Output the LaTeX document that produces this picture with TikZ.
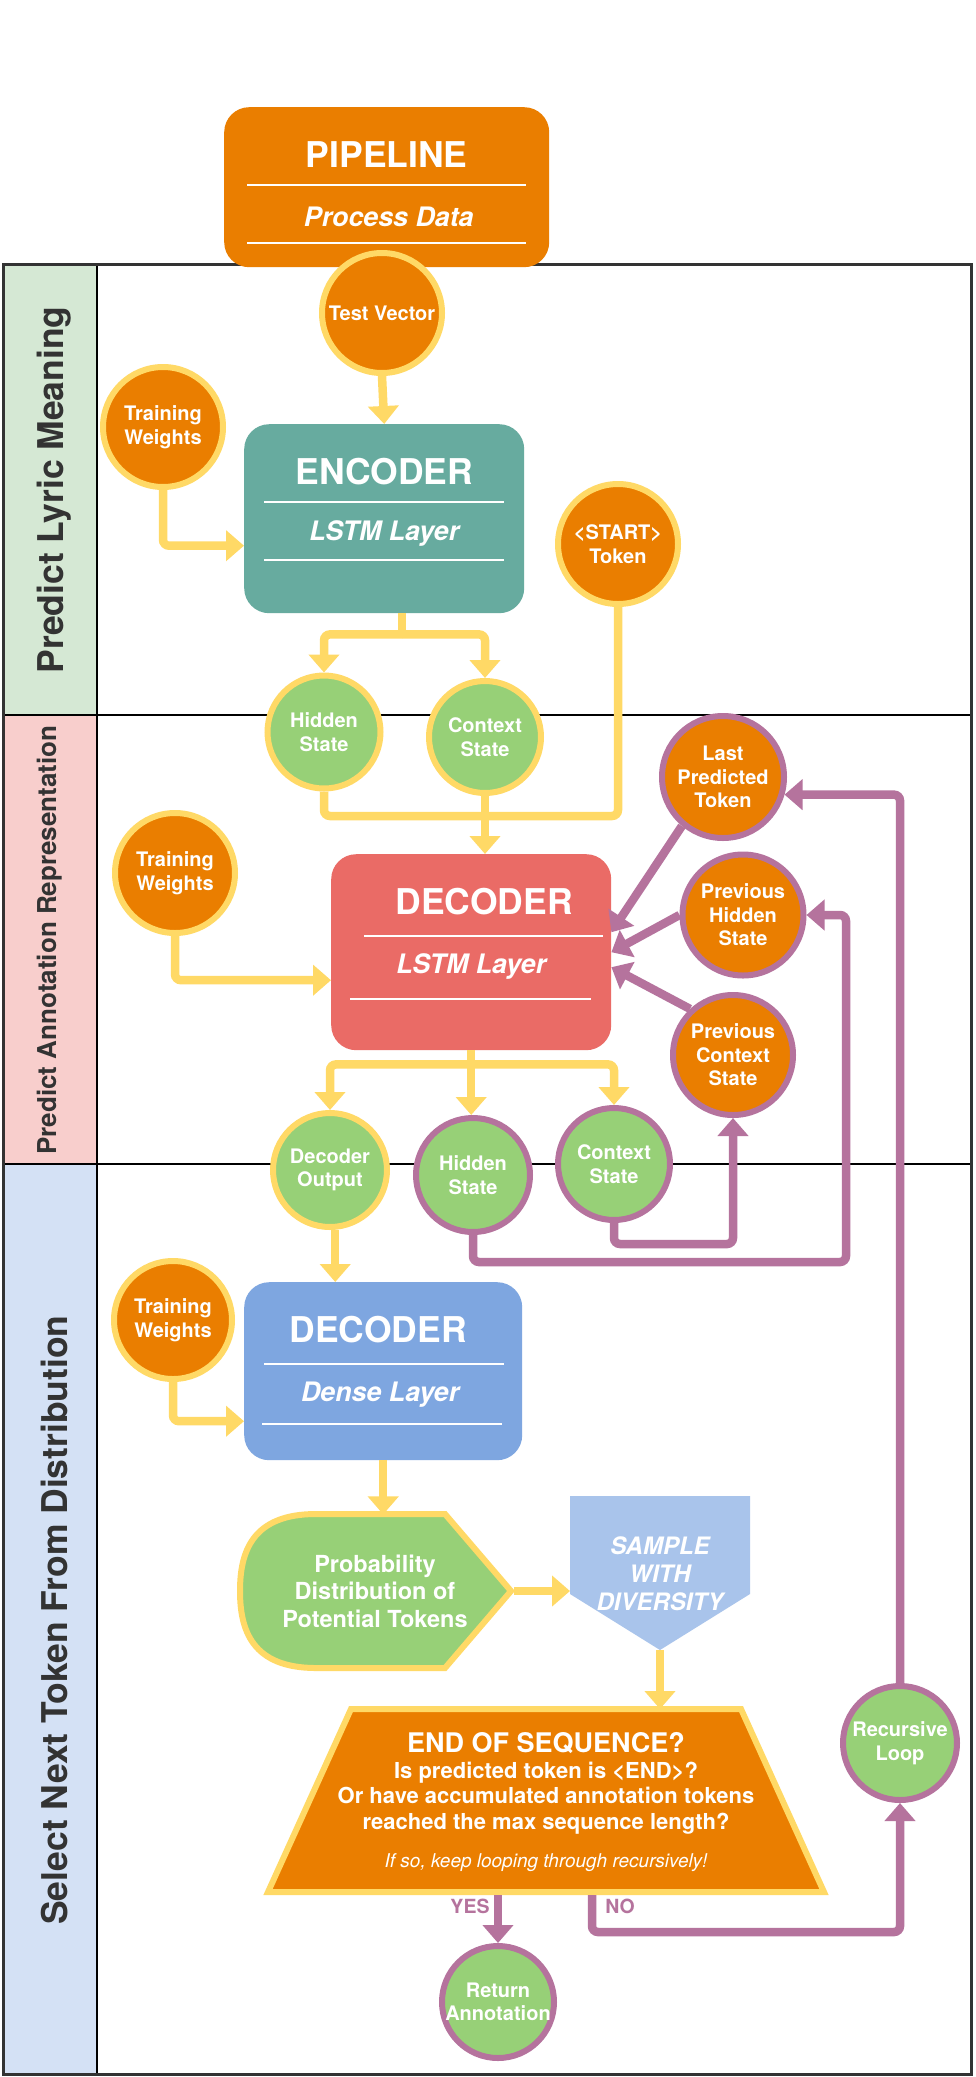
\documentclass[tikz,border=0pt]{standalone}
\usepackage{fontspec}
\setmainfont{TeX Gyre Heros}
\usetikzlibrary{arrows.meta,calc}
\definecolor{orng}{HTML}{EA7E00}
\definecolor{ylw}{HTML}{FFD966}
\definecolor{tealb}{HTML}{67AB9F}
\definecolor{redb}{HTML}{EA6B66}
\definecolor{blueb}{HTML}{7EA6E0}
\definecolor{grn}{HTML}{97D077}
\definecolor{lblue}{HTML}{A9C4EB}
\definecolor{purp}{HTML}{B5739D}
\definecolor{laneg}{HTML}{D5E8D4}
\definecolor{lanep}{HTML}{F8CECC}
\definecolor{laneb}{HTML}{D4E1F5}
\definecolor{dgray}{HTML}{333333}
\newcommand{\pxfont}[2]{\fontsize{#1}{#2}\selectfont}
\tikzset{
 circ/.style={circle, line width=6pt, inner sep=0pt, minimum size=#1, align=center, text=white, font=\pxfont{20}{23.5}\bfseries},
 ocy/.style={circ=#1, fill=orng, draw=ylw},
 gcy/.style={circ=#1, fill=grn, draw=ylw},
 ocp/.style={circ=#1, fill=orng, draw=purp},
 gcp/.style={circ=#1, fill=grn, draw=purp},
 boxshape/.style={rectangle, rounded corners=25pt, inner sep=0pt, anchor=north west},
 btitle/.style={text=white, font=\pxfont{35.5}{40}\bfseries, inner sep=0pt},
 bsub/.style={text=white, font=\pxfont{26.8}{30}\bfseries\itshape, inner sep=0pt},
 wline/.style={draw=white, line width=2pt},
 yline/.style={draw=ylw, line width=8.5pt, rounded corners=6pt},
 yarrow/.style={yline, -{Triangle[width=30pt,length=18pt]}},
 pline/.style={draw=purp, line width=8.5pt, rounded corners=6pt},
 parrow/.style={pline, -{Triangle[width=30pt,length=18pt]}},
 lanelabel/.style={rotate=90, text=dgray, inner sep=0pt},
 plabel/.style={text=purp, font=\pxfont{19.5}{22}\bfseries, inner sep=0pt},
 shapetext/.style={text=white, align=center, inner sep=0pt},
}
\begin{document}
\begin{tikzpicture}[x=1pt,y=-1pt]
\useasboundingbox (0,0) rectangle (975,2077);
\fill[white] (0,0) rectangle (975,2077);
% ---------------- swimlanes
\fill[laneg] (3,264) rectangle (97,715);
\fill[lanep] (3,715) rectangle (97,1164);
\fill[laneb] (3,1164) rectangle (97,2074);
\draw[line width=1.5pt] (97,264) -- (97,2074);
\draw[line width=1.5pt] (3,715) -- (971,715);
\draw[line width=1.5pt] (3,1164) -- (971,1164);
\draw[line width=3pt, dgray] (3,264) rectangle (971,2074);
\node[lanelabel, font=\pxfont{35.5}{40}\bfseries] (lane1) at (54,490) {Predict Lyric Meaning};
\node[lanelabel, font=\pxfont{26}{30}\bfseries] (lane2) at (50,940) {Predict Annotation Representation};
\node[lanelabel, font=\pxfont{35.5}{40}\bfseries] (lane3) at (54,1620) {Select Next Token From Distribution};
% ---------------- boxes
\node[boxshape, fill=orng, minimum width=325pt, minimum height=160pt] (pipe) at (224,107) {};
\node[btitle] (pipet) at ($(pipe.north)+(0,48)$) {PIPELINE};
\draw[wline] ($(pipe.north west)+(23,78)$) -- ($(pipe.north east)+(-23,78)$);
\node[bsub] (pipes) at ($(pipe.north)+(2,110)$) {Process Data};
\draw[wline] ($(pipe.north west)+(23,136)$) -- ($(pipe.north east)+(-23,136)$);

\node[boxshape, fill=tealb, minimum width=280pt, minimum height=189pt] (enc) at (244,424) {};
\node[btitle] (enct) at ($(enc.north)+(0,48)$) {ENCODER};
\draw[wline] ($(enc.north west)+(20,78)$) -- ($(enc.north east)+(-20,78)$);
\node[bsub] (encs) at ($(enc.north)+(0,109)$) {LSTM Layer};
\draw[wline] ($(enc.north west)+(20,136)$) -- ($(enc.north east)+(-20,136)$);

\node[boxshape, fill=redb, minimum width=280pt, minimum height=196pt] (dec) at (331,854) {};
\node[btitle] (dect) at ($(dec.north)+(13,48)$) {DECODER};
\draw[wline] ($(dec.north west)+(33,82)$) -- ($(dec.north east)+(-8,82)$);
\node[bsub] (decs) at ($(dec.north)+(0,112)$) {LSTM Layer};
\draw[wline] ($(dec.north west)+(19,145)$) -- ($(dec.north east)+(-20,145)$);

\node[boxshape, fill=blueb, minimum width=278pt, minimum height=178pt] (dense) at (244,1282) {};
\node[btitle] (denset) at ($(dense.north)+(-5,48)$) {DECODER};
\draw[wline] ($(dense.north west)+(20,82)$) -- ($(dense.north east)+(-18,82)$);
\node[bsub] (denses) at ($(dense.north)+(-3,113)$) {Dense Layer};
\draw[wline] ($(dense.north west)+(18,142)$) -- ($(dense.north east)+(-20,142)$);

% ---------------- circles
\node[ocy=120pt] (tv) at (382,313) {Test Vector};
\node[ocy=120pt] (tw1) at (163,427) {Training\\Weights};
\node[ocy=120pt] (start) at (618,544) {<START>\\Token};
\node[gcy=113pt] (hid1) at (324,732) {Hidden\\State};
\node[gcy=112pt] (ctx1) at (485,737) {Context\\State};
\node[ocy=120pt] (tw2) at (175,873) {Training\\Weights};
\node[ocp=122pt] (lpt) at (723,777) {Last\\Predicted\\Token};
\node[ocp=121pt] (phs) at (743,915) {Previous\\Hidden\\State};
\node[ocp=120pt] (pcs) at (733,1055) {Previous\\Context\\State};
\node[gcy=114pt] (dout) at (330,1170) {Decoder\\Output};
\node[gcp=114pt] (hid2) at (473,1175) {Hidden\\State};
\node[gcp=112pt] (ctx2) at (614,1164) {Context\\State};
\node[ocy=118pt] (tw3) at (173,1320) {Training\\Weights};
\node[gcp=114pt] (rec) at (900,1743) {Recursive\\Loop};
\node[gcp=110pt] (ret) at (498,2002) {Return\\Annotation};

% ---------------- lower shapes
\draw[fill=grn, draw=ylw, line width=6pt] (316,1514) -- (445,1514) -- (511,1591) -- (445,1668) -- (316,1668)
  .. controls (252,1668) and (240,1630) .. (240,1591) .. controls (240,1552) and (252,1514) .. (316,1514) -- cycle;
\node[shapetext, font=\pxfont{23.5}{27.5}\bfseries] (prob) at (375,1591) {Probability\\Distribution of\\Potential Tokens};
\fill[lblue] (570,1496) -- (750,1496) -- (750,1594) -- (660,1650) -- (570,1594) -- cycle;
\node[shapetext, font=\pxfont{24}{28}\bfseries\itshape] (samp) at (660,1574) {SAMPLE\\WITH\\DIVERSITY};
\draw[fill=orng, draw=ylw, line width=6pt] (351,1709) -- (741,1709) -- (824,1892) -- (268,1892) -- cycle;
\node[shapetext, font=\pxfont{27}{30}\bfseries] (eost) at (546,1743) {END OF SEQUENCE?};
\node[shapetext, font=\pxfont{22}{25.5}\bfseries] (eosb) at (546,1798) {Is predicted token is <END>?\\Or have accumulated annotation tokens\\reached the max sequence length?};
\node[shapetext, font=\pxfont{19}{22}\itshape] (eosi) at (546,1863) {If so, keep looping through recursively!};
\coordinate (prtip) at (514,1591);
\coordinate (sleft) at (570,1591);
\coordinate (sbot) at (660,1650);
\coordinate (etop) at (660,1709);
\coordinate (eyes) at (498,1895);
\coordinate (eno) at (592,1895);
\node[plabel] (yes) at (470,1906) {YES};
\node[plabel] (no) at (620,1906) {NO};

% ---------------- connectors (yellow)
\draw[yarrow] (tv.south) -- (enc.north);
\draw[yarrow] (tw1.south) |- ($(enc.west)+(0,27)$);
\coordinate (esplit) at ($(enc.south)+(18,21)$);
\draw[yline] ($(enc.south)+(18,0)$) -- (esplit);
\draw[yarrow] (esplit) -| (hid1.north);
\draw[yarrow] (esplit) -| (ctx1.north);
\coordinate (merge) at ($(ctx1.south)+(0,20)$);
\draw[yline] (hid1.south) |- (merge -| start.south) -- (start.south);
\draw[yarrow] (ctx1.south) -- (ctx1.south |- dec.north);
\draw[yarrow] (tw2.south) |- ($(dec.west)+(0,28)$);
\coordinate (dsplit) at ($(dec.south)+(0,14)$);
\draw[yline] (dec.south) -- (dsplit);
\draw[yarrow] (dsplit) -| (dout.north);
\draw[yarrow] (dsplit) -- (dsplit |- hid2.north);
\draw[yarrow] (dsplit) -| (ctx2.north);
\draw[yarrow] (dout.-85) -- (dout.-85 |- dense.north);
\draw[yarrow] (tw3.south) |- ($(dense.west)+(0,50)$);
\draw[yarrow] (dense.south) -- ++(0,54);
\draw[yarrow] (prtip) -- (sleft);
\draw[yarrow] (sbot) -- (etop);

% ---------------- connectors (purple)
\draw[parrow] (lpt.230) -- ($(dec.east)+(0,-20)$);
\draw[parrow] (phs.west) -- (dec.east);
\draw[parrow] (pcs.133) -- ($(dec.east)+(0,15)$);
\draw[parrow] (ctx2.south) -- ++(0,21) -| (pcs.south);
\coordinate (hloop) at (846,1262);
\draw[parrow] (hid2.south) |- (hloop) |- (phs.east);
\draw[parrow] (rec.north) |- (lpt.-16);
\draw[parrow] (eyes) -- (ret.north);
\draw[parrow] (eno) -- ++(0,37) -| (rec.south);
\end{tikzpicture}
\end{document}
